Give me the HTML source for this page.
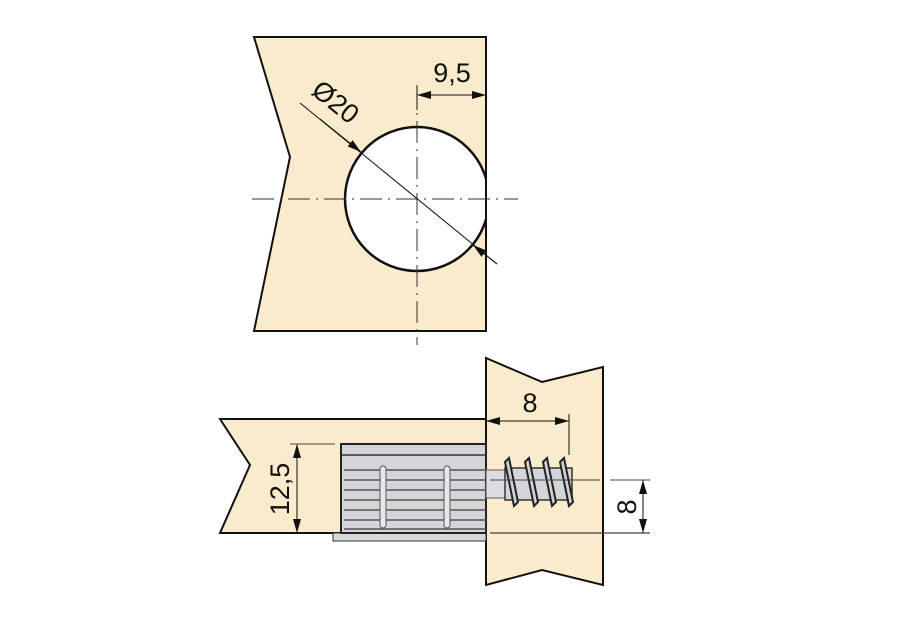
<!DOCTYPE html>
<html><head><meta charset="utf-8"><style>
html,body{margin:0;padding:0;background:#fff;}
svg{display:block;}
text{font-family:"Liberation Sans",sans-serif;fill:#111;}
</style></head><body>
<svg width="903" height="622" viewBox="0 0 903 622" xmlns="http://www.w3.org/2000/svg">
<defs>
<marker id="a" viewBox="0 0 14 8" refX="14" refY="4" markerWidth="14" markerHeight="8" orient="auto-start-reverse" markerUnits="userSpaceOnUse"><path d="M0,0 L14,4 L0,8 z" fill="#111"/></marker>
<clipPath id="pc"><polygon points="254,37 486,37 486,331 254,331 290,157"/></clipPath>
</defs>
<polygon points="254,37 486,37 486,331 254,331 290,157" fill="#f9ebcb" stroke="#111" stroke-width="2"/>
<g clip-path="url(#pc)">
<circle cx="417" cy="199" r="72" fill="#fff" stroke="#111" stroke-width="2.5"/>
</g>
<line x1="486" y1="37" x2="486" y2="331" stroke="#111" stroke-width="2"/>
<line x1="252" y1="199" x2="518" y2="199" stroke="#333" stroke-width="1" stroke-dasharray="22,6,2,6"/>
<line x1="417" y1="85" x2="417" y2="345" stroke="#333" stroke-width="1" stroke-dasharray="22,6,2,6"/>
<line x1="417" y1="95" x2="486" y2="95" stroke="#111" stroke-width="1" marker-start="url(#a)" marker-end="url(#a)"/>
<line x1="417" y1="86" x2="417" y2="110" stroke="#111" stroke-width="1"/>
<text x="452" y="82" font-size="27" text-anchor="middle">9,5</text>
<line x1="300" y1="103" x2="497" y2="264" stroke="#111" stroke-width="1"/>
<line x1="320" y1="119" x2="361" y2="152" stroke="#111" stroke-width="1" marker-end="url(#a)"/>
<line x1="497" y1="264" x2="473" y2="245" stroke="#111" stroke-width="1" marker-end="url(#a)"/>
<text x="0" y="0" font-size="27" transform="translate(310,93) rotate(39)">Ø20</text>

<polygon points="220,419 486,419 486,533 220,533 250,465" fill="#f9ebcb" stroke="#111" stroke-width="2"/>
<polygon points="486,358 542,382 603,367 603,585 542,570 486,585" fill="#f9ebcb" stroke="#111" stroke-width="2"/>
<rect x="333" y="533" width="153" height="8" fill="#d6d8da" stroke="#333" stroke-width="1"/>
<rect x="341" y="444" width="145" height="89" fill="#d3d5d8" stroke="#222" stroke-width="2"/>
<line x1="342" y1="455" x2="486" y2="455" stroke="#333" stroke-width="1.5"/>
<g stroke="#555" stroke-width="1.5">
<line x1="344" y1="470" x2="486" y2="470"/><line x1="344" y1="480" x2="486" y2="480"/>
<line x1="344" y1="490" x2="486" y2="490"/><line x1="344" y1="500" x2="486" y2="500"/>
<line x1="344" y1="510" x2="486" y2="510"/><line x1="344" y1="520" x2="486" y2="520"/>
<line x1="344" y1="529" x2="486" y2="529"/>
</g>
<rect x="380" y="466" width="6" height="62" rx="3" fill="#e6e8ea" stroke="#555"/>
<rect x="444" y="466" width="6" height="62" rx="3" fill="#e6e8ea" stroke="#555"/>
<rect x="486" y="470" width="20" height="28" fill="#dcdde0" stroke="#555" stroke-width="1"/>
<rect x="505" y="468" width="67" height="32" fill="#d3d5d8" stroke="#333" stroke-width="1.5"/>
<g stroke="#222" stroke-width="2" fill="#cfd1d4">
<polygon points="505,462 509,458 518,502 514,506"/>
<polygon points="525,462 529,458 538,502 534,506"/>
<polygon points="543,462 547,458 556,502 552,506"/>
<polygon points="560,462 564,458 573,502 569,506"/>
</g>
<line x1="490" y1="480" x2="600" y2="480" stroke="#444" stroke-width="1"/>
<line x1="610" y1="480" x2="650" y2="480" stroke="#444" stroke-width="1"/>
<line x1="490" y1="533" x2="650" y2="533" stroke="#444" stroke-width="1.2"/>
<line x1="643" y1="480" x2="643" y2="533" stroke="#111" stroke-width="1" marker-start="url(#a)" marker-end="url(#a)"/>
<text x="0" y="0" font-size="27" text-anchor="middle" transform="translate(636,507) rotate(-90)">8</text>
<line x1="486" y1="421" x2="569" y2="421" stroke="#111" stroke-width="1" marker-start="url(#a)" marker-end="url(#a)"/>
<line x1="569" y1="414" x2="569" y2="455" stroke="#111" stroke-width="1"/>
<text x="530" y="412" font-size="27" text-anchor="middle">8</text>
<line x1="297" y1="444" x2="297" y2="533" stroke="#111" stroke-width="1" marker-start="url(#a)" marker-end="url(#a)"/>
<line x1="290" y1="444" x2="335" y2="444" stroke="#444" stroke-width="1"/>
<text x="0" y="0" font-size="27" text-anchor="middle" transform="translate(289,489) rotate(-90)">12,5</text>
</svg>
</body></html>
